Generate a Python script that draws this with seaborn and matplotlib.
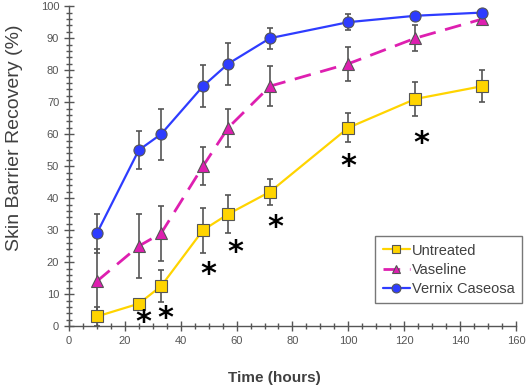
import numpy as np
import pandas as pd
import matplotlib
matplotlib.use("Agg")
import matplotlib.pyplot as plt
import matplotlib.transforms as mtransforms
import seaborn as sns
from matplotlib.ticker import MultipleLocator

# Data
time_h = [10, 25, 33, 48, 57, 72, 100, 124, 148]
untreated = [3, 7, 12.5, 30, 35, 42, 62, 71, 75]
untreated_err = [3, 1, 5, 7, 6, 4, 4.6, 5.3, 5]
vaseline = [14, 25, 29, 50, 62, 75, 82, 90, 96]
vaseline_err = [10, 10, 8.5, 6, 6, 6.2, 5.3, 4, 0]
vernix = [29, 55, 60, 75, 82, 90, 95, 97, 98]
vernix_err = [6, 6, 8, 6.5, 6.5, 3.3, 2.5, 0, 0]

star_x = [26.5, 34.6, 49.9, 59.7, 73.8, 99.9, 126]
star_y = [3, 4, 18, 24.8, 32.6, 51.7, 58.8]

sns.set_style("ticks")
plt.rcParams["font.family"] = ["Liberation Sans", "DejaVu Sans"]

fig = plt.figure(figsize=(5.26, 3.85), dpi=100)
ax = fig.add_axes([0.131, 0.153, 0.85, 0.831])

series = [
    ("Untreated", untreated, untreated_err, "#FFD400", "s", "-"),
    ("Vaseline", vaseline, vaseline_err, "#DE1FB0", "^", "--"),
    ("Vernix Caseosa", vernix, vernix_err, "#2E3CFF", "o", "-"),
]

for name, vals, err, col, mk, ls in series:
    ax.errorbar(time_h, vals, yerr=err, fmt="none", ecolor="#555555",
                elinewidth=1.2, capsize=2.5, capthick=1.2, zorder=2)
    df = pd.DataFrame({"t": time_h, "v": vals})
    sns.lineplot(data=df, x="t", y="v", ax=ax, color=col, marker=mk,
                 markersize=8, markerfacecolor=col, markeredgecolor="#555555",
                 markeredgewidth=0.8, linewidth=1.6 if ls == "-" else 2.0,
                 label=name, zorder=3)
    if ls == "--":
        ax.lines[-1].set_dashes((6, 3.5))

# asterisks: shift glyph down a little so its centre sits on the point
star_tr = mtransforms.offset_copy(ax.transData, fig=fig, x=0, y=-4, units="points")
for sx, sy in zip(star_x, star_y):
    ax.text(sx, sy, "*", ha="center", va="center", fontsize=22,
            fontweight="bold", color="black", family="DejaVu Sans",
            transform=star_tr)

ax.set_xlim(0, 160)
ax.set_ylim(0, 100)
ax.xaxis.set_major_locator(MultipleLocator(20))
ax.xaxis.set_minor_locator(MultipleLocator(5))
ax.yaxis.set_major_locator(MultipleLocator(10))
ax.yaxis.set_minor_locator(MultipleLocator(2))
ax.tick_params(which="both", direction="inout", color="#555555",
               labelcolor="#555555", labelsize=8)
ax.tick_params(which="major", length=7, width=1)
ax.tick_params(which="minor", length=5, width=1)
for s in ["top", "right"]:
    ax.spines[s].set_visible(False)
for s in ["left", "bottom"]:
    ax.spines[s].set_color("#555555")
    ax.spines[s].set_linewidth(1)

ax.set_xlabel("Time (hours)", fontsize=11, fontweight="bold", color="#404040",
              labelpad=18, x=0.46)
ax.set_ylabel("Skin Barrier Recovery (%)", fontsize=14, color="#404040",
              labelpad=13, y=0.59)

leg = ax.legend(loc="lower right", bbox_to_anchor=(1.013, 0.072), frameon=True,
                fancybox=False, edgecolor="#555555", fontsize=10.5,
                handlelength=1.9, handletextpad=0.1, borderpad=0.5,
                borderaxespad=0, labelspacing=0.35, markerscale=0.8)
leg.get_frame().set_linewidth(1)
for t in leg.get_texts():
    t.set_color("#404040")

fig.savefig("out.png", dpi=100)
